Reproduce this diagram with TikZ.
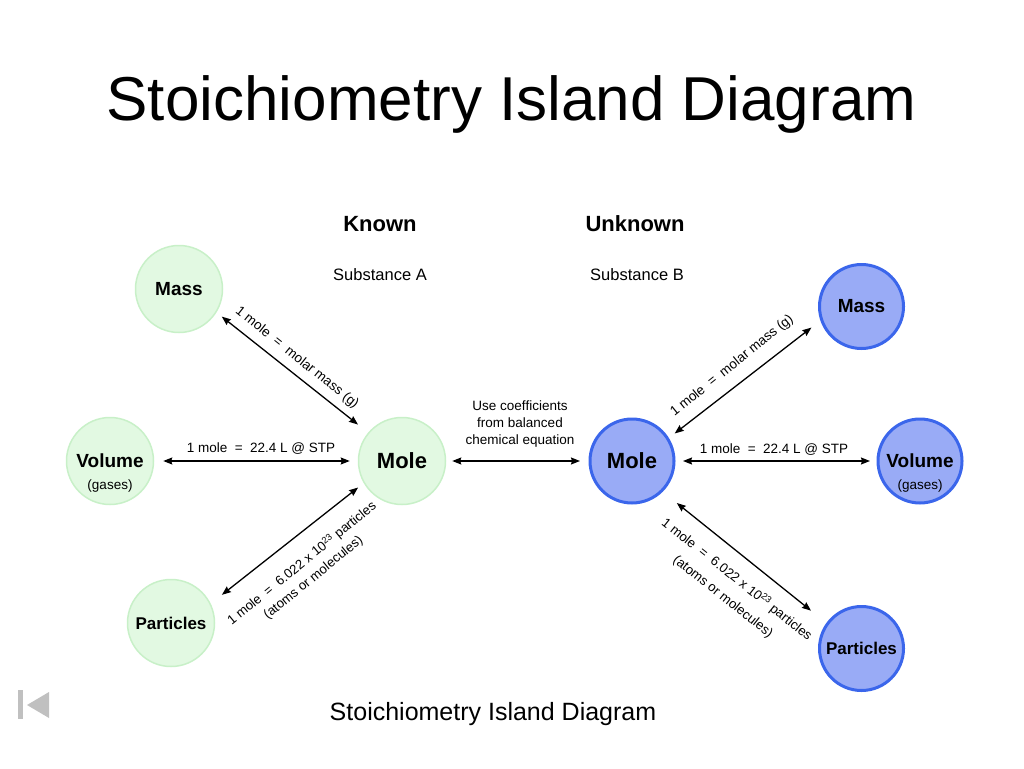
\documentclass[tikz,border=0pt]{standalone}
\usepackage{fontspec}
\setmainfont{Liberation Sans}
\usetikzlibrary{arrows.meta}
\definecolor{greenfill}{RGB}{226,249,226}
\definecolor{greenline}{RGB}{200,240,200}
\definecolor{bluefill}{RGB}{153,171,246}
\definecolor{blueline}{RGB}{59,102,235}
\definecolor{navgrey}{RGB}{192,192,192}
\newcommand{\fs}[2]{\fontsize{#1}{#2}\selectfont}
\tikzset{
  greenisle/.style={circle, fill=greenfill, draw=greenline, line width=1.5pt, minimum size=87pt, inner sep=0pt, font=\fs{19}{22}\bfseries},
  blueisle/.style={circle, fill=bluefill, draw=blueline, line width=3pt, minimum size=84pt, inner sep=0pt, font=\fs{19}{22}\bfseries},
  molefont/.style={font=\fs{22}{26}\bfseries},
  partfont/.style={font=\fs{17}{20}\bfseries},
  arr/.style={{Stealth[length=9pt,width=7pt,inset=1pt]}-{Stealth[length=9pt,width=7pt,inset=1pt]}, line width=1.3pt, black},
  lbl/.style={font=\fs{13.5}{18}, align=center, inner sep=0pt},
  gases/.style={font=\fs{13.5}{16}, anchor=base, yshift=-25pt, inner sep=0pt},
}
\begin{document}
\begin{tikzpicture}[x=1pt,y=-1pt]
\useasboundingbox (0,0) rectangle (1024,768);
% title
\node[anchor=base, font=\fs{62}{70}, inner sep=0pt] (title) at (511.5,120) {Stoichiometry Island Diagram};
\node[anchor=base, font=\fs{22}{26}\bfseries, inner sep=0pt] (known) at (380,231) {Known};
\node[anchor=base, font=\fs{22}{26}\bfseries, inner sep=0pt] (unknown) at (635,231) {Unknown};
\node[anchor=base, font=\fs{16.5}{20}, inner sep=0pt] (subA) at (380,280) {Substance A};
\node[anchor=base, font=\fs{16.5}{20}, inner sep=0pt] (subB) at (637,280) {Substance B};
% left islands
\node[greenisle] (massL) at (179,289) {Mass};
\node[greenisle, label={[gases]center:(gases)}] (volL) at (110,461) {Volume};
\node[greenisle, molefont] (moleL) at (402,461) {Mole};
\node[greenisle, partfont] (partL) at (171,623) {Particles};
% right islands
\node[blueisle, molefont] (moleR) at (632,461) {Mole};
\node[blueisle] (massR) at (861.5,306.5) {Mass};
\node[blueisle, label={[gases]center:(gases)}] (volR) at (920,461) {Volume};
\node[blueisle, partfont] (partR) at (861.5,648.5) {Particles};
% connectors
\draw[arr, shorten <=6.7pt, shorten >=12.9pt] (massL.-32.1) -- (moleL.140.7);
\draw[arr, shorten <=9pt, shorten >=8pt] (volL.0) -- (moleL.180);
\draw[arr, shorten <=14.2pt, shorten >=7.1pt] (partL.26.6) -- (moleL.210.6);
\draw[arr, shorten <=6pt, shorten >=8.5pt] (moleL.0) -- (moleR.180);
\draw[arr, shorten <=7.3pt, shorten >=11.3pt] (moleR.32.1) -- (massR.199.8);
\draw[arr, shorten <=7.5pt, shorten >=6.5pt] (moleR.0) -- (volR.180);
\draw[arr, shorten <=18pt, shorten >=19.6pt] (moleR.-45.7) -- (partR.144.7);
% connector labels
\node[lbl, rotate=-38.7] (lblMassL) at (297,358) {1 mole\ \ =\ \ molar mass (g)};
\node[lbl, anchor=base] (lblVolL) at (261,452) {1 mole\ \ =\ \ 22.4 L @ STP};
\node[lbl, rotate=39.2, font=\fs{13.2}{18}] (lblPartL) at (307.5,570.5) {1 mole\ \ =\ \ 6.022 x 10\textsuperscript{23} particles\\(atoms or molecules)};
\node[lbl, font=\fs{13.5}{17}] (lblCoef) at (520,424) {Use coefficients\\from balanced\\chemical equation};
\node[lbl, rotate=38.9] (lblMassR) at (732,366) {1 mole\ \ =\ \ molar mass (g)};
\node[lbl, anchor=base] (lblVolR) at (774,453) {1 mole\ \ =\ \ 22.4 L @ STP};
\node[lbl, rotate=-38.4, font=\fs{13.2}{22}] (lblPartR) at (730,588) {1 mole\ \ =\ \ 6.022 x 10\textsuperscript{23} particles\\(atoms or molecules)};
% caption
\node[anchor=base, font=\fs{25}{30}, inner sep=0pt] (caption) at (493,720) {Stoichiometry Island Diagram};
% navigation icon
\fill[navgrey] (18,690) rectangle (23,719);
\fill[navgrey] (27,705) -- (49,692) -- (49,718) -- cycle;
\end{tikzpicture}
\end{document}
